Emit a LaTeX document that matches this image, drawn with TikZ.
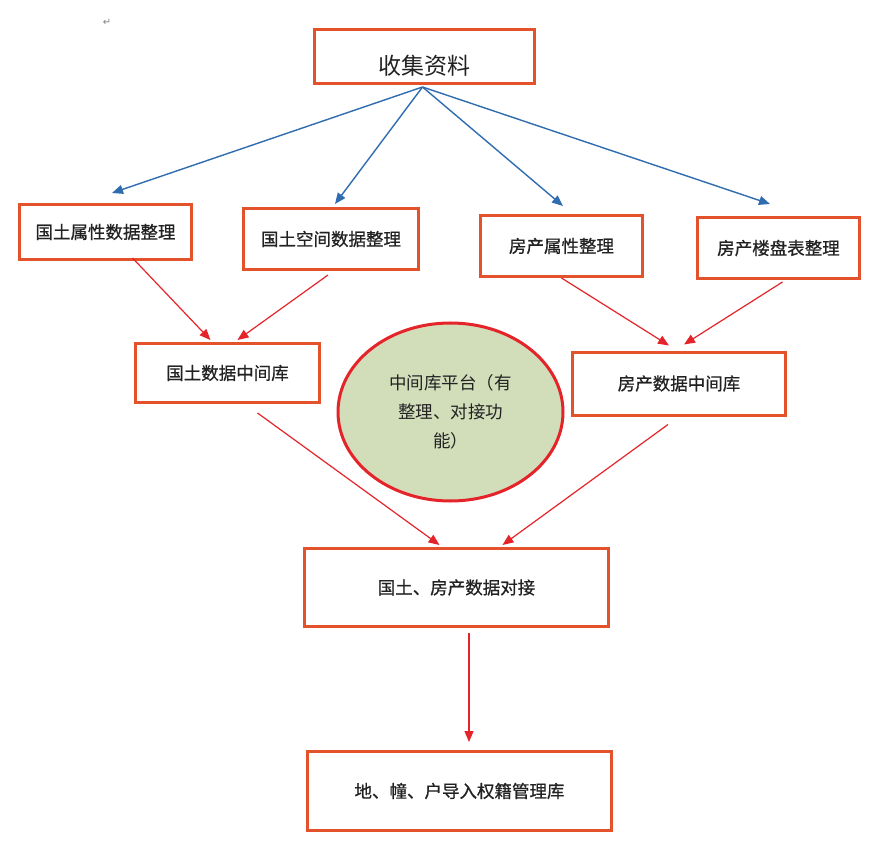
\documentclass[tikz,border=0pt]{standalone}
\usepackage{fontspec}
\newfontfamily\cjk[FakeBold=0.7]{Noto Sans CJK SC}
\newfontfamily\cjktop{Noto Sans CJK SC}
\newfontfamily\dvs{DejaVu Sans}
\usetikzlibrary{arrows.meta,shapes.geometric}
\definecolor{boxred}{HTML}{E4522B}
\definecolor{arrred}{HTML}{E5242A}
\definecolor{arrblue}{HTML}{2F6CB0}
\definecolor{ellfill}{HTML}{D2DDBA}
\definecolor{txt}{HTML}{222222}
\tikzset{
  box/.style={draw=boxred, line width=3pt, rectangle, inner sep=0pt, text=txt,
    font=\cjk\fontsize{17.5}{20}\selectfont},
  bluearrow/.style={draw=arrblue, line width=1.4pt, -{Triangle[length=11pt,width=9pt]}},
  redarrow/.style={draw=arrred, line width=1.2pt, -{Triangle[length=11pt,width=9pt]}}
}
\begin{document}
\begin{tikzpicture}[x=1pt,y=-1pt]
\path[use as bounding box, fill=white] (0,0) rectangle (878,850);
\node[text=gray, font=\dvs\fontsize{10}{11}\selectfont] (pm) at (107,22) {↵};
% boxes
\node[box, minimum width=220pt, minimum height=54pt] (top) at (424.5,56.5) {};
\node[text=txt, font=\cjktop\fontsize{23}{26}\selectfont] (toptext) at (424,66) {收集资料};
\node[box, minimum width=172pt, minimum height=55pt] (b1) at (105.5,232) {国土属性数据整理};
\node[box, minimum width=175pt, minimum height=61pt] (b2) at (331,239) {国土空间数据整理};
\node[box, minimum width=162pt, minimum height=61pt] (b3) at (561.5,246) {房产属性整理};
\node[box, minimum width=162pt, minimum height=61pt] (b4) at (778.5,248) {房产楼盘表整理};
\node[box, minimum width=184pt, minimum height=59pt] (m1) at (227.5,373) {国土数据中间库};
\node[box, minimum width=213pt, minimum height=63pt] (m2) at (679,383.5) {房产数据中间库};
\node[draw=arrred, fill=ellfill, line width=3pt, ellipse, minimum width=225pt, minimum height=178pt,
  inner sep=0pt, text=txt, align=center, font=\cjktop\fontsize{17.5}{29}\selectfont] (ell) at (450.5,412)
  {中间库平台（有\\整理、对接功\\能）};
\node[box, minimum width=304pt, minimum height=78pt] (d) at (456.5,587.5) {国土、房产数据对接};
\node[box, minimum width=304pt, minimum height=79pt] (e) at (459.5,791) {地、幢、户导入权籍管理库};
% blue arrows
\coordinate (src) at ([xshift=-2pt,yshift=-2pt]top.south);
\draw[bluearrow] (src) -- ([xshift=6.5pt,yshift=10pt]b1.north);
\draw[bluearrow] (src) -- ([xshift=4pt,yshift=3pt]b2.north);
\draw[bluearrow] (src) -- ([xshift=1.5pt,yshift=8pt]b3.north);
\draw[bluearrow] (src) -- ([xshift=-8.5pt,yshift=12pt]b4.north);
% red arrows
\draw[redarrow] ([xshift=27pt,yshift=3pt]b1.south) -- ([xshift=-17pt,yshift=2pt]m1.north);
\draw[redarrow] ([xshift=-3pt,yshift=-4pt]b2.south) -- ([xshift=10pt,yshift=2pt]m1.north);
\draw[redarrow] ([yshift=0pt]b3.south) -- ([xshift=-10pt,yshift=5pt]m2.north);
\draw[redarrow] ([xshift=4pt,yshift=-2pt]b4.south) -- ([xshift=5pt,yshift=6pt]m2.north);
\draw[redarrow] ([xshift=30pt,yshift=-9pt]m1.south) -- ([xshift=-17pt,yshift=2pt]d.north);
\draw[redarrow] ([xshift=-11pt,yshift=-8pt]m2.south) -- ([xshift=46pt,yshift=2pt]d.north);
\draw[redarrow] ([xshift=12.5pt,yshift=-5pt]d.south) -- ([xshift=9.5pt,yshift=8pt]e.north);
\end{tikzpicture}
\end{document}
